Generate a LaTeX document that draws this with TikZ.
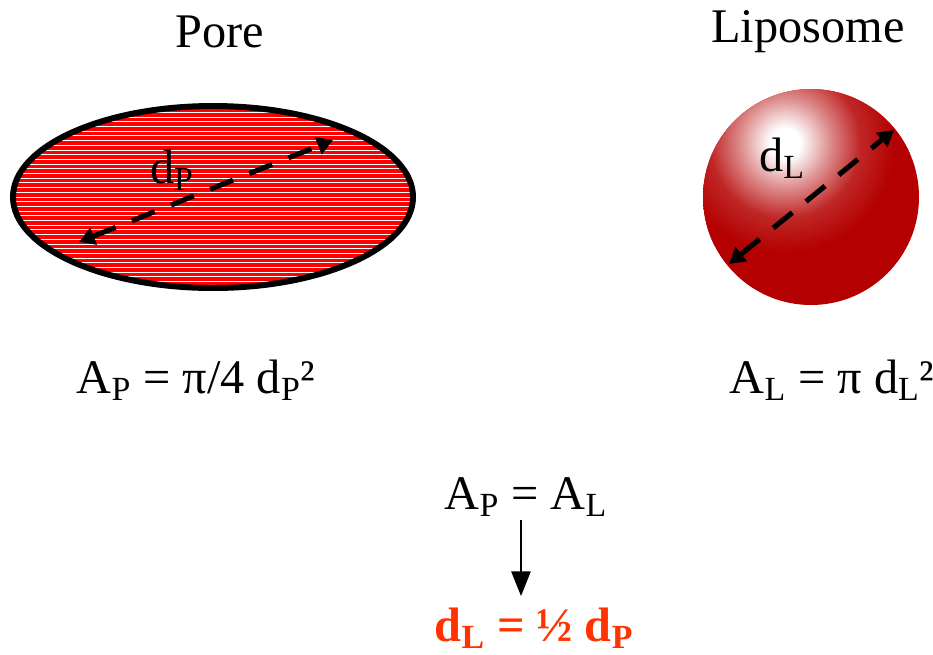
\documentclass[tikz,border=0pt]{standalone}
\usepackage{fontspec}
\setmainfont{Liberation Serif}
\usetikzlibrary{arrows.meta}
\definecolor{porered}{RGB}{255,0,0}
\definecolor{lipored}{RGB}{180,0,0}
\definecolor{resultred}{RGB}{255,51,0}
\newcommand{\sub}[1]{\textsubscript{#1}}
% light spot on the liposome
\pgfdeclareradialshading{liposhade}{\pgfpoint{0bp}{0bp}}{%
  color(0bp)=(white); color(3bp)=(white); color(9bp)=(lipored!45!white);
  color(15bp)=(lipored!85!white); color(22bp)=(lipored); color(50bp)=(lipored)}
\tikzset{
  label/.style={font=\fontsize{27.5}{32}\selectfont, inner sep=0pt},
  dimarrow/.style={line width=2.9pt, dash pattern=on 14pt off 10pt,
    {Triangle[length=9pt,width=10pt]}-{Triangle[length=9pt,width=10pt]}},
}

\begin{document}
\begin{tikzpicture}[x=0.02cm,y=-0.02cm]
\useasboundingbox (0,0) rectangle (933,654);

% titles
\path (220,32) node (pore) [label] {Pore};
\path (808,32) node (lipo) [label] {Liposome};

% the pore: red ellipse with white lines
\fill[porered] (213,197) ellipse [x radius=200, y radius=91];
\begin{scope}
\clip (213,197) ellipse [x radius=200, y radius=91];
\foreach \k in {0,...,40}
  \draw[white, line width=0.5pt] (0,103+4.7*\k) -- (430,103+4.7*\k);
\end{scope}
\draw[line width=3.4pt] (213,197) ellipse [x radius=200, y radius=91];
\coordinate (p1) at (79,242);
\coordinate (p2) at (333,140);
\draw[dimarrow] (p1) -- (p2);
\path (172,170) node (dp) [label] {d\sub{P}};

% the liposome
\fill[lipored] (811,197) circle (108);
\begin{scope}
\clip (811,197) circle (108);
\shade[shading=liposhade] (785,143) circle (125);
\end{scope}
\coordinate (l1) at (729,264);
\coordinate (l2) at (894,130);
\draw[dimarrow] (l1) -- (l2);
\path (782,158) node (dl) [label] {d\sub{L}};

% areas
\path (196,380) node (ap) [label] {A\sub{P} = π/4 d\sub{P}²};
\path (832,380) node (al) [label] {A\sub{L} = π d\sub{L}²};
\path (526,497) node (eq) [label] {A\sub{P} = A\sub{L}};
\path (534,628) node (res) [label, text=resultred, font=\fontsize{27.5}{32}\selectfont\bfseries] {d\sub{L} = ½ d\sub{P}};

\coordinate (a1) at (521,520);
\coordinate (a2) at (521,596);
\draw[line width=0.9pt, -{Triangle[length=14pt,width=11pt]}] (a1) -- (a2);

\end{tikzpicture}
\end{document}
